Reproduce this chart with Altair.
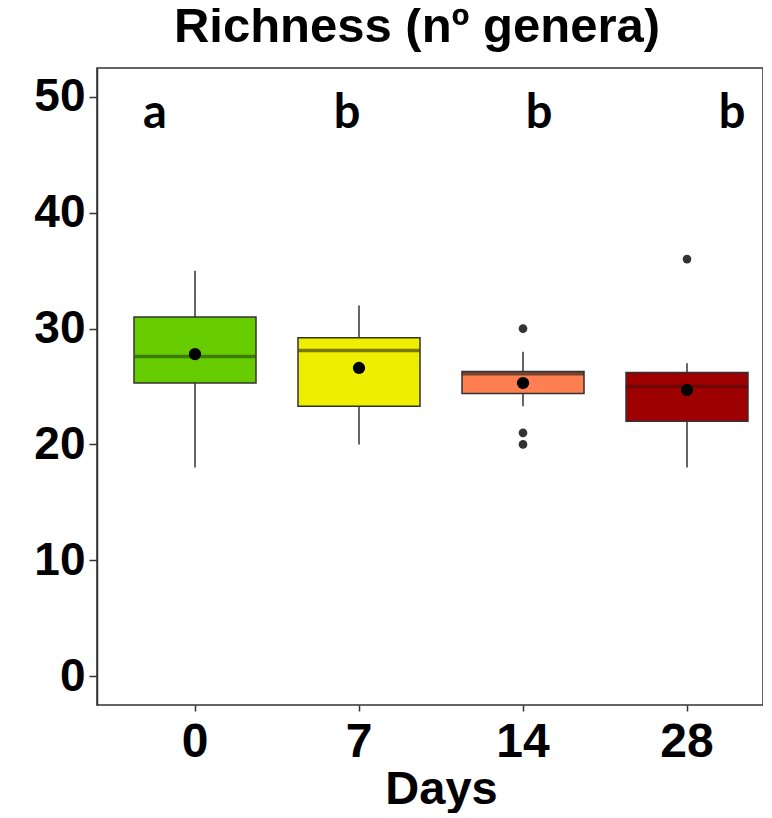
import altair as alt
import pandas as pd

# ---- data ----
days = ["0", "7", "14", "28"]
lower_whisker = [18.0, 20.0, 23.3, 18.0]
q1 = [25.3, 23.3, 24.4, 22.0]
median = [27.6, 28.1, 26.1, 25.0]
q3 = [31.0, 29.2, 26.3, 26.2]
upper_whisker = [35.0, 32.0, 28.0, 27.0]
mean = [27.8, 26.6, 25.3, 24.7]
outlier_days = ["14", "14", "14", "28"]
outlier_values = [30.0, 21.0, 20.0, 36.0]
letters = ["a", "b", "b", "b"]
letter_height = 47.3

fill_colors = ["#66CC00", "#EEEE00", "#FF7F50", "#9E0000"]
median_colors = ["#2C5A05", "#4A4700", "#3A2A22", "#5A0C0C"]

box_df = pd.DataFrame({
    "day": days, "lo": lower_whisker, "q1": q1, "med": median,
    "q3": q3, "hi": upper_whisker, "mean": mean,
})
out_df = pd.DataFrame({"day": outlier_days, "value": outlier_values})
let_df = pd.DataFrame({"day": days, "letter": letters, "yv": [letter_height] * 4})

FONT = "Liberation Sans"

x_enc = alt.X(
    "day:N", sort=days,
    scale=alt.Scale(domain=days, range=[16, 672], paddingInner=0, paddingOuter=0),
    axis=alt.Axis(title="Days", labelAngle=0, labelFont=FONT, labelFontSize=48,
                  labelFontWeight="bold", labelColor="black", labelPadding=7,
                  titleFont=FONT, titleFontSize=47, titleFontWeight="bold",
                  titleColor="black", titlePadding=0, domain=False,
                  tickColor="#333333", tickWidth=1.5, tickSize=6),
)
y_scale = alt.Scale(domain=[-2.5, 52.5], nice=False, zero=False)
y_axis = alt.Axis(title=None, values=[0, 10, 20, 30, 40, 50], labelFont=FONT,
                  labelFontSize=46, labelFontWeight="bold", labelColor="black",
                  labelPadding=4, grid=False,
                  domainColor="#333333", domainWidth=1.5,
                  tickColor="#333333", tickWidth=1.5, tickSize=8)

color_scale = alt.Scale(domain=days, range=fill_colors)
median_scale = alt.Scale(domain=days, range=median_colors)

base = alt.Chart(box_df)

whisk = base.mark_rule(color="#333333", strokeWidth=1.5).encode(
    x=x_enc, y=alt.Y("lo:Q", scale=y_scale, axis=y_axis), y2="hi:Q")

box = base.mark_bar(size=122, stroke="#333333", strokeWidth=1.5).encode(
    x=x_enc, y=alt.Y("q1:Q", scale=y_scale, axis=y_axis), y2="q3:Q",
    fill=alt.Fill("day:N", scale=color_scale, legend=None))

med = base.mark_tick(size=122, thickness=3.5).encode(
    x=x_enc, y=alt.Y("med:Q", scale=y_scale, axis=y_axis),
    color=alt.Color("day:N", scale=median_scale, legend=None))

mean_pt = base.mark_circle(size=150, color="black", opacity=1).encode(
    x=x_enc, y=alt.Y("mean:Q", scale=y_scale, axis=y_axis))

outl = alt.Chart(out_df).mark_circle(size=75, color="#333333", opacity=1).encode(
    x=x_enc, y=alt.Y("value:Q", scale=y_scale, axis=y_axis))

letter_dx = [-40, -12, 16, 45]
letter_layers = []
for i, d in enumerate(days):
    letter_layers.append(
        alt.Chart(let_df[let_df["day"] == d]).mark_text(
            font="Lato", fontSize=47, fontWeight="bold", color="black",
            baseline="alphabetic", align="center", dx=letter_dx[i]
        ).encode(x=x_enc, y=alt.Y("yv:Q", scale=y_scale, axis=y_axis), text="letter:N")
    )

chart = alt.layer(whisk, box, med, mean_pt, outl, *letter_layers).properties(
    width=666, height=637,
    autosize=alt.AutoSizeParams(type="none"),
    padding={"left": 89, "top": 60, "right": 0, "bottom": 108},
    title=alt.TitleParams("Richness (nº genera)", font=FONT, fontSize=49,
                          fontWeight="bold", color="black", dx=-13, offset=16),
).configure(background="white").configure_view(stroke="#333333", strokeWidth=1.5)

chart.save("out.html", embed_options={"renderer": "svg", "actions": False})
